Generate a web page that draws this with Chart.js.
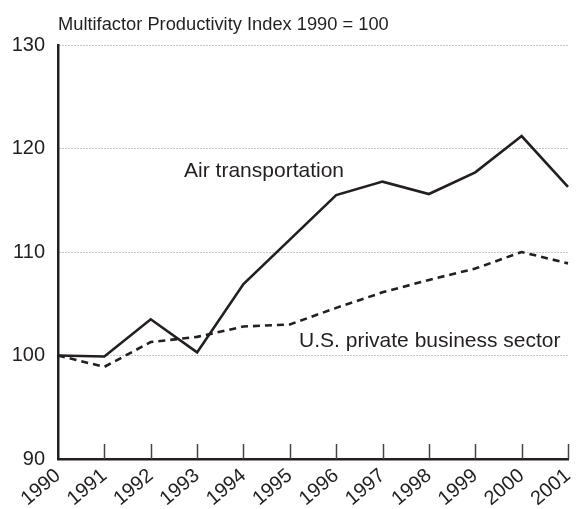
<!DOCTYPE html>
<html>
<head>
<meta charset="utf-8">
<script src="https://cdn.jsdelivr.net/npm/chart.js@4/dist/chart.umd.min.js"></script>
<style>
    html, body { margin: 0; padding: 0; background: #fff; }
    #wrap { width: 581px; height: 509px; position: relative; }
</style>
</head>
<body>
<div id="wrap"><canvas id="mfpChart"></canvas></div>
<script>
// Data
const years = ['1990', '1991', '1992', '1993', '1994', '1995', '1996', '1997', '1998', '1999', '2000', '2001'];
const airValues = [100, 99.9, 103.5, 100.3, 106.9, 111.2, 115.5, 116.8, 115.6, 117.7, 121.2, 116.3];
const businessValues = [100, 98.9, 101.3, 101.8, 102.8, 103.0, 104.6, 106.1, 107.3, 108.4, 110.0, 108.9];
const yTicks = [90, 100, 110, 120, 130];

const titleText = 'Multifactor Productivity Index 1990 = 100';
const ink = '#231f20';
const fontName = '"Liberation Sans", Arial, Helvetica, sans-serif';

// Title, series labels and the inward x ticks
const extrasPlugin = {
    id: 'extras',
    afterDraw(chart) {
        const ctx = chart.ctx;
        const x = chart.scales.x;
        const y = chart.scales.y;
        const area = chart.chartArea;

        ctx.save();
        ctx.fillStyle = ink;
        ctx.font = '18.3px ' + fontName;
        ctx.textBaseline = 'alphabetic';
        ctx.textAlign = 'left';
        ctx.fillText(titleText, area.left, 30);

        ctx.font = '21px ' + fontName;
        ctx.textBaseline = 'middle';
        ctx.fillText('Air transportation', x.getPixelForValue(2.72), y.getPixelForValue(117.8));
        ctx.fillText('U.S. private business sector', x.getPixelForValue(5.2), y.getPixelForValue(101.4));

        // tick marks pointing up into the plot
        ctx.strokeStyle = '#444';
        ctx.lineWidth = 1.5;
        for (let i = 1; i < years.length; i++) {
            const px = Math.round(x.getPixelForValue(i)) + 0.5;
            ctx.beginPath();
            ctx.moveTo(px, area.bottom);
            ctx.lineTo(px, area.bottom - 15);
            ctx.stroke();
        }
        ctx.restore();
    }
};

const ctx = document.getElementById('mfpChart').getContext('2d');
const chart = new Chart(ctx, {
    type: 'line',
    data: {
        labels: years,
        datasets: [
            {
                label: 'Air transportation',
                data: airValues,
                borderColor: ink,
                borderWidth: 2.6,
                pointRadius: 0,
                tension: 0,
                fill: false
            },
            {
                label: 'U.S. private business sector',
                data: businessValues,
                borderColor: ink,
                borderWidth: 2.6,
                borderDash: [7, 5],
                pointRadius: 0,
                tension: 0,
                fill: false
            }
        ]
    },
    options: {
        responsive: true,
        maintainAspectRatio: false,
        animation: false,
        layout: {
            padding: { top: 45, right: 13, left: 0, bottom: 0 }
        },
        plugins: {
            legend: { display: false },
            tooltip: { enabled: false },
            title: { display: false }
        },
        scales: {
            x: {
                offset: false,
                afterFit(scale) {
                    scale.height = 50;
                    scale.paddingRight = 0;
                    scale.paddingLeft = 0;
                },
                grid: { display: false, drawTicks: false },
                border: { display: true, color: ink, width: 2.5 },
                ticks: {
                    color: ink,
                    font: { family: fontName, size: 20 },
                    maxRotation: 40,
                    minRotation: 40,
                    padding: 5,
                    autoSkip: false
                }
            },
            y: {
                min: 90,
                max: 130,
                afterFit(scale) { scale.width = 58; },
                afterBuildTicks(scale) {
                    scale.ticks = yTicks.map(v => ({ value: v }));
                },
                grid: {
                    drawTicks: false,
                    color: c => (c.tick && c.tick.value === 90) ? 'rgba(0,0,0,0)' : '#8a8a8a',
                    lineWidth: 1
                },
                border: { display: true, color: ink, width: 2.5, dash: [1, 2] },
                ticks: {
                    color: ink,
                    font: { family: fontName, size: 20 },
                    padding: 13
                }
            }
        }
    },
    plugins: [extrasPlugin]
});
</script>
</body>
</html>
